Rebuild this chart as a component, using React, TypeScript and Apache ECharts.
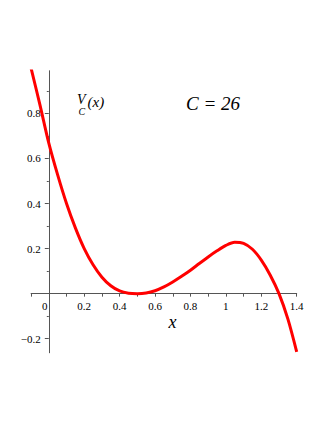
import React, { useEffect, useRef } from "react";
import * as echarts from "echarts";

const xValues = [
  -0.1, -0.05, 0, 0.05, 0.1, 0.15, 0.2, 0.25, 0.3, 0.35, 0.4, 0.45, 0.5, 0.55,
  0.6, 0.65, 0.7, 0.75, 0.8, 0.85, 0.9, 0.95, 1.0, 1.05, 1.1, 1.15, 1.2, 1.25,
  1.3, 1.35, 1.4,
];
const vValues = [
  1.0, 0.838, 0.668, 0.527, 0.4, 0.292, 0.2, 0.128, 0.073, 0.035, 0.012, 0.002,
  0.0, 0.003, 0.013, 0.03, 0.052, 0.077, 0.104, 0.134, 0.163, 0.19, 0.214,
  0.228, 0.223, 0.197, 0.149, 0.083, 0.0, -0.112, -0.258,
];
const xTickValues = [
  -0.1, 0, 0.1, 0.2, 0.3, 0.4, 0.5, 0.6, 0.7, 0.8, 0.9, 1.0, 1.1, 1.2, 1.3, 1.4,
];
const xLabelValues = [0, 0.2, 0.4, 0.6, 0.8, 1.0, 1.2, 1.4];
const yMajorValues = [-0.2, 0.2, 0.4, 0.6, 0.8];
const yMinorValues = [-0.1, 0.1, 0.3, 0.5, 0.7, 0.9];
const titleText = "C = 26";

const FONT = "Liberation Serif";
const AXIS_COLOR = "#555";

const X_MIN = -0.1;
const X_MAX = 1.4;
const Y_MIN = -0.262;
const Y_MAX = 0.988;
const GRID = { left: 31.1, right: 30.3, top: 71, bottom: 70.3 };
const W = 327;
const H = 423;

function txt(x: number, y: number, text: string, size: number, lh: number, align = "left") {
  return {
    type: "text",
    style: {
      x,
      y,
      text,
      fontFamily: FONT,
      fontStyle: "italic",
      fontSize: size,
      lineHeight: lh,
      fill: "#000000",
      textAlign: align,
      textVerticalAlign: "middle",
    },
  };
}

export default function App() {
  const ref = useRef<HTMLDivElement>(null);
  useEffect(() => {
    if (!ref.current) return;
    const chart = echarts.init(ref.current, undefined, { renderer: "svg" });
    const data = xValues.map((x, i) => [x, vValues[i]]);
    const fmt = (v: number) => {
      const r = Math.round(v * 10) / 10;
      if (r === 0) return "{z|0}";
      return String(r).replace("-", "\u2212");
    };
    const gw = W - GRID.left - GRID.right;
    const gh = H - GRID.top - GRID.bottom;
    const yZeroOffset = -((0 - X_MIN) / (X_MAX - X_MIN)) * gw;
    const xZeroOffset = -((0 - Y_MIN) / (Y_MAX - Y_MIN)) * gh;
    const yCommon = {
      type: "value",
      position: "left",
      min: Y_MIN,
      max: Y_MAX,
      offset: yZeroOffset,
      splitLine: { show: false },
    };
    chart.setOption({
      animation: false,
      backgroundColor: "#fff",
      grid: { ...GRID, containLabel: false },
      xAxis: {
        type: "value",
        min: X_MIN,
        max: X_MAX,
        offset: xZeroOffset,
        axisLine: { onZero: false, lineStyle: { color: AXIS_COLOR, width: 1 } },
        axisTick: { show: true, length: 3, customValues: xTickValues, lineStyle: { color: AXIS_COLOR } },
        axisLabel: {
          customValues: xLabelValues,
          formatter: fmt,
          fontFamily: FONT,
          fontSize: 11,
          color: "#000",
          margin: 7,
          rich: { z: { padding: [0, 8, 0, 0], fontFamily: FONT, fontSize: 11, color: "#000" } },
        },
        splitLine: { show: false },
      },
      yAxis: [
        {
          ...yCommon,
          axisLine: { onZero: false, lineStyle: { color: AXIS_COLOR, width: 1 } },
          axisTick: { show: true, length: 4, customValues: yMajorValues, lineStyle: { color: AXIS_COLOR } },
          axisLabel: {
            customValues: yMajorValues,
            formatter: fmt,
            fontFamily: FONT,
            fontSize: 11,
            color: "#000",
            margin: 8,
          },
        },
        {
          ...yCommon,
          axisLine: { onZero: false, lineStyle: { color: AXIS_COLOR, width: 1 } },
          axisTick: { show: true, length: 2, customValues: yMinorValues, lineStyle: { color: AXIS_COLOR } },
          axisLabel: { show: false },
        },
      ],
      series: [
        {
          type: "line",
          data,
          showSymbol: false,
          smooth: 0.3,
          clip: true,
          lineStyle: { color: "#ff0000", width: 3 },
          yAxisIndex: 0,
        },
      ],
      graphic: [
        txt(77, 99.5, "V", 14, 11),
        txt(78.5, 111.5, "C", 10, 8),
        txt(87.5, 102, "(x)", 15, 14),
        txt(186, 103, titleText, 19, 20),
        txt(172.5, 322, "x", 18, 18, "center"),
      ],
    });
    return () => chart.dispose();
  }, []);
  return (
    <div
      ref={ref}
      style={{ position: "fixed", left: 0, top: 0, width: W, height: H, background: "#fff" }}
    />
  );
}
